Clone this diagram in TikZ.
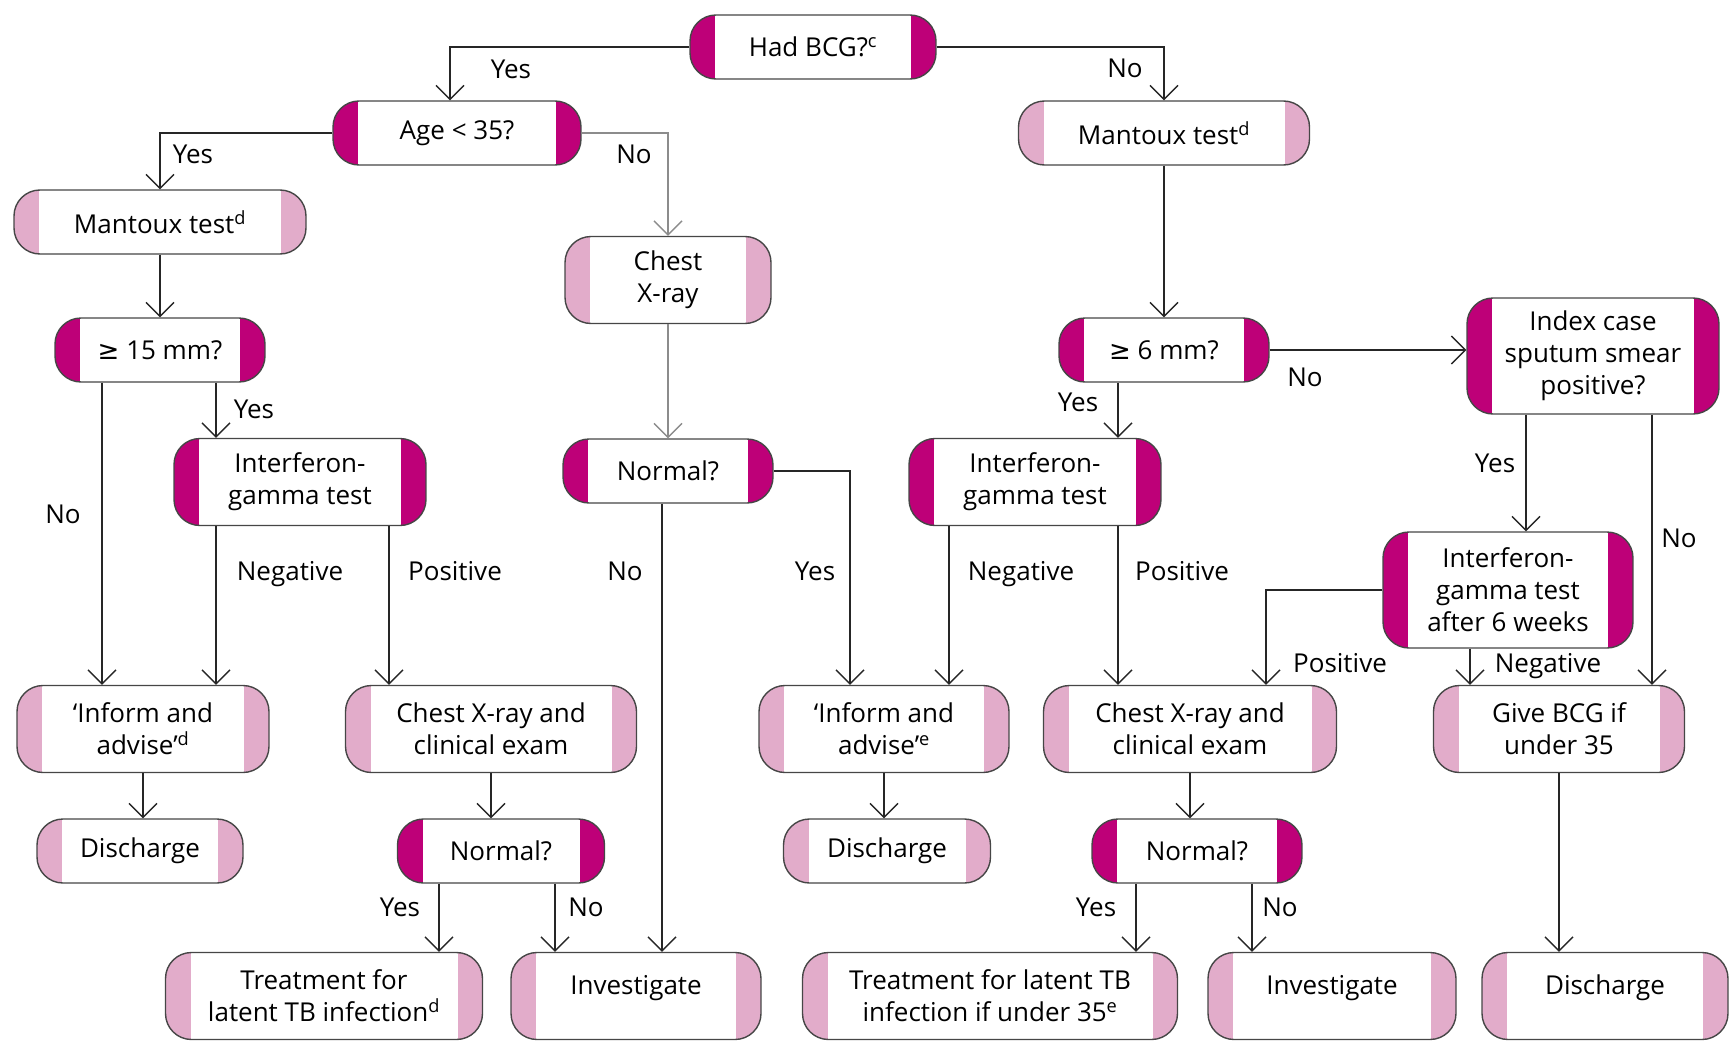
\documentclass[tikz,border=0pt]{standalone}
\usepackage{fontspec}
\setmainfont{Open Sans}
\newfontfamily\symfont{DejaVu Sans}
\usepackage[]{xcolor}
\usetikzlibrary{arrows.meta}
\definecolor{capdark}{RGB}{190,0,120}
\definecolor{caplight}{RGB}{226,172,202}
\definecolor{edgecol}{RGB}{70,70,70}
\definecolor{flowgrey}{RGB}{140,140,140}
\tikzset{
		capped/.style={path picture={
				\fill[#1, sharp corners] (path picture bounding box.south west) rectangle ([xshift=25pt]path picture bounding box.north west);
				\fill[#1, sharp corners] (path picture bounding box.south east) rectangle ([xshift=-25pt]path picture bounding box.north east);}},
		box/.style={draw=edgecol, line width=1.4pt, fill=white, rounded corners=26pt, align=center, inner sep=0pt, minimum height=64pt, font=\fontsize{26}{32}\selectfont},
		ask/.style={box, capped=capdark},
		act/.style={box, capped=caplight},
		two/.style={minimum height=87pt},
		three/.style={minimum height=116pt},
		lbl/.style={font=\fontsize{26}{32}\selectfont, inner sep=0pt, text height=19pt, text depth=0pt},
		flow/.style={draw=black!85, line width=1.4pt, -{Straight Barb[length=14pt,width=28pt]}}
	}
\begin{document}
\begin{tikzpicture}[x=1pt, y=-1pt]
				\useasboundingbox (0,0) rectangle (1730,1041);
				% questions
				\node[ask, minimum width=246pt]        (hadbcg) at (813,47)   {Had BCG?\textsuperscript{c}};
				\node[ask, minimum width=248pt]        (age)    at (457,133)  {Age < 35?};
				\node[ask, minimum width=210pt]        (ge15)   at (160,350)  {{\symfont ≥} 15 mm?};
				\node[ask, minimum width=210pt]        (ge6)    at (1164,350) {{\symfont ≥} 6 mm?};
				\node[ask, three, minimum width=252pt] (index)  at (1593,356) {Index case\\sputum smear\\positive?};
				\node[ask, two, minimum width=252pt]   (ifnL)   at (300,482)  {Interferon-\\gamma test};
				\node[ask, two, minimum width=252pt]   (ifnM)   at (1035,482) {Interferon-\\gamma test};
				\node[ask, three, minimum width=250pt] (ifnR)   at (1508,590) {Interferon-\\gamma test\\after 6 weeks};
				\node[ask, minimum width=210pt]        (normM)  at (668,471)  {Normal?};
				\node[ask, minimum width=207pt]        (normL)  at (501,851)  {Normal?};
				\node[ask, minimum width=210pt]        (normR)  at (1197,851) {Normal?};
				% actions
				\node[act, minimum width=292pt]        (mantL)  at (160,222)  {Mantoux test\textsuperscript{d}};
				\node[act, minimum width=291pt]        (mantR)  at (1164,133) {Mantoux test\textsuperscript{d}};
				\node[act, two, minimum width=206pt]   (chest)  at (668,280)  {Chest\\X-ray};
				\node[act, two, minimum width=252pt]   (informL) at (143,729) {‘Inform and\\advise’\textsuperscript{d}};
				\node[act, two, minimum width=291pt]   (cxrL)   at (491,729)  {Chest X-ray and\\clinical exam};
				\node[act, two, minimum width=250pt]   (informM) at (884,729) {‘Inform and\\advise’\textsuperscript{e}};
				\node[act, two, minimum width=293pt]   (cxrR)   at (1190,729) {Chest X-ray and\\clinical exam};
				\node[act, two, minimum width=251pt]   (givebcg) at (1559,729) {Give BCG if\\under 35};
				\node[act, minimum width=206pt]        (dischL) at (140,851)  {Discharge};
				\node[act, minimum width=207pt]        (dischM) at (887,851)  {Discharge};
				\node[act, two, minimum width=317pt]   (treatL) at (324,996)  {Treatment for\\latent TB infection\textsuperscript{d}};
				\node[act, two, minimum width=250pt]   (invL)   at (636,996)  {\raisebox{22pt}{Investigate}};
				\node[act, two, minimum width=375pt]   (treatR) at (990,996)  {Treatment for latent TB\\infection if under 35\textsuperscript{e}};
				\node[act, two, minimum width=248pt]   (invR)   at (1332,996) {\raisebox{22pt}{Investigate}};
				\node[act, two, minimum width=246pt]   (dischR) at (1605,996) {\raisebox{22pt}{Discharge}};
				% connectors
				\draw[flow] (hadbcg.west) -| ([xshift=-7pt]age.north);
				\draw[flow] (hadbcg.east) -| (mantR.north);
				\draw[flow] (age.west) -| (mantL.north);
				\draw[flow, draw=flowgrey] (age.east) -| (chest.north);
				\draw[flow] (mantL.south) -- (ge15.north);
				\draw[flow, draw=flowgrey] (chest.south) -- (normM.north);
				\draw[flow] (mantR.south) -- (ge6.north);
				\draw[flow] (ge6.east) -- (ge6.east -| index.west);
				\draw[flow] ([xshift=-58pt]ge15.south) -- ([xshift=-58pt]ge15.south |- informL.north);
				\draw[flow] ([xshift=56pt]ge15.south) -- ([xshift=56pt]ge15.south |- ifnL.north);
				\draw[flow] ([xshift=-46pt]ge6.south) -- ([xshift=-46pt]ge6.south |- ifnM.north);
				\draw[flow] ([xshift=-84pt]ifnL.south) -- ([xshift=-84pt]ifnL.south |- informL.north);
				\draw[flow] ([xshift=89pt]ifnL.south) -- ([xshift=89pt]ifnL.south |- cxrL.north);
				\draw[flow] ([xshift=-6pt]normM.south) -- ([xshift=-6pt]normM.south |- invL.north);
				\draw[flow] (normM.east) -| ([xshift=-34pt]informM.north);
				\draw[flow] ([xshift=-86pt]ifnM.south) -- ([xshift=-86pt]ifnM.south |- informM.north);
				\draw[flow] ([xshift=83pt]ifnM.south) -- ([xshift=83pt]ifnM.south |- cxrR.north);
				\draw[flow] ([xshift=-67pt]index.south) -- ([xshift=-67pt]index.south |- ifnR.north);
				\draw[flow] ([xshift=59pt]index.south) -- ([xshift=59pt]index.south |- givebcg.north);
				\draw[flow] (ifnR.west) -| ([xshift=76pt]cxrR.north);
				\draw[flow] ([xshift=-38pt]ifnR.south) -- ([xshift=-38pt]ifnR.south |- givebcg.north);
				\draw[flow] (informL.south) -- (informL.south |- dischL.north);
				\draw[flow] (cxrL.south) -- (cxrL.south |- normL.north);
				\draw[flow] (informM.south) -- (informM.south |- dischM.north);
				\draw[flow] (cxrR.south) -- (cxrR.south |- normR.north);
				\draw[flow] ([xshift=-62pt]normL.south) -- ([xshift=-62pt]normL.south |- treatL.north);
				\draw[flow] ([xshift=54pt]normL.south) -- ([xshift=54pt]normL.south |- invL.north);
				\draw[flow] ([xshift=-61pt]normR.south) -- ([xshift=-61pt]normR.south |- treatR.north);
				\draw[flow] ([xshift=55pt]normR.south) -- ([xshift=55pt]normR.south |- invR.north);
				\draw[flow] (givebcg.south) -- (givebcg.south |- dischR.north);
				% labels
				\node[lbl] (yesA) at (511,69)   {Yes};
				\node[lbl] (noA)  at (1125,68)  {No};
				\node[lbl] (yesB) at (193,154)  {Yes};
				\node[lbl] (noB)  at (634,154)  {No};
				\node[lbl] (noC)  at (1305,377) {No};
				\node[lbl] (noD)  at (63,514)   {No};
				\node[lbl] (yesC) at (254,409)  {Yes};
				\node[lbl] (yesD) at (1078,402) {Yes};
				\node[lbl] (negA) at (290,571)  {Negative};
				\node[lbl] (posA) at (455,571)  {Positive};
				\node[lbl] (noE)  at (625,571)  {No};
				\node[lbl] (yesE) at (815,571)  {Yes};
				\node[lbl] (negB) at (1021,571) {Negative};
				\node[lbl] (posB) at (1182,571) {Positive};
				\node[lbl] (yesF) at (1495,463) {Yes};
				\node[lbl] (noF)  at (1679,538) {No};
				\node[lbl] (posC) at (1340,663) {Positive};
				\node[lbl] (negC) at (1548,663) {Negative};
				\node[lbl] (yesG) at (400,907)  {Yes};
				\node[lbl] (noG)  at (586,907)  {No};
				\node[lbl] (yesH) at (1096,907) {Yes};
				\node[lbl] (noH)  at (1280,907) {No};
			\end{tikzpicture}
\end{document}
